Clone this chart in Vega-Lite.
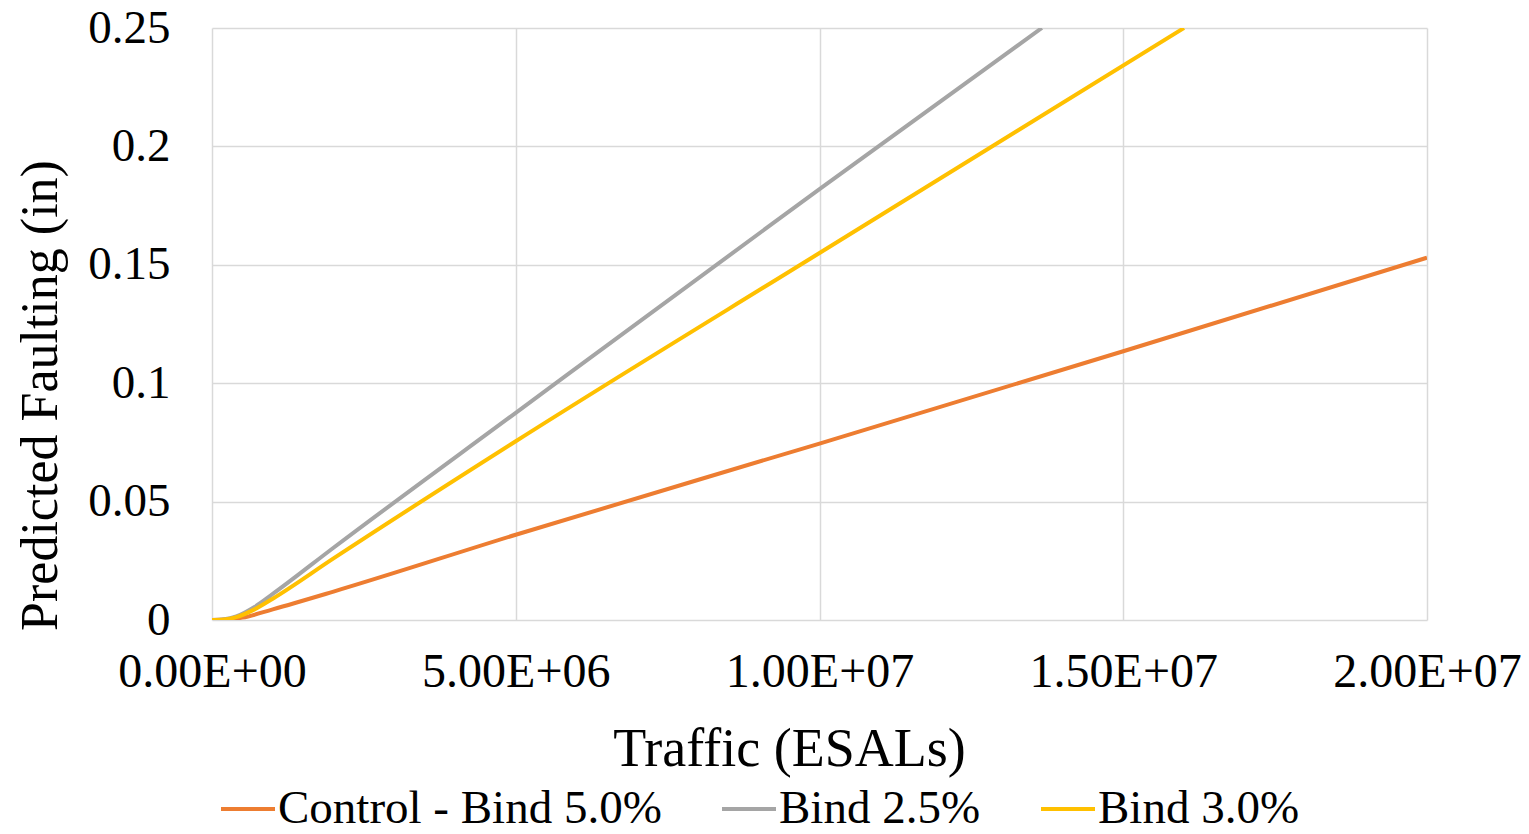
{
  "$schema": "https://vega.github.io/schema/vega-lite/v6.json",
  "autosize": "none",
  "width": 1215,
  "height": 592,
  "padding": {"left": 212, "top": 28, "right": 102, "bottom": 214},
  "background": "white",
  "config": {
    "view": {"stroke": null},
    "font": "Liberation Serif"
  },
  "data": {
    "values": [
      {"series": "Control - Bind 5.0%", "x": 0, "y": 0},
      {"series": "Control - Bind 5.0%", "x": 200000, "y": 0.0002},
      {"series": "Control - Bind 5.0%", "x": 500000, "y": 0.001},
      {"series": "Control - Bind 5.0%", "x": 1000000, "y": 0.0045},
      {"series": "Control - Bind 5.0%", "x": 2000000, "y": 0.012},
      {"series": "Control - Bind 5.0%", "x": 5000000, "y": 0.036},
      {"series": "Control - Bind 5.0%", "x": 10000000, "y": 0.0745},
      {"series": "Control - Bind 5.0%", "x": 15000000, "y": 0.1135},
      {"series": "Control - Bind 5.0%", "x": 20000000, "y": 0.153},
      {"series": "Bind 2.5%", "x": 0, "y": 0},
      {"series": "Bind 2.5%", "x": 200000, "y": 0.0003},
      {"series": "Bind 2.5%", "x": 400000, "y": 0.0015},
      {"series": "Bind 2.5%", "x": 700000, "y": 0.0055},
      {"series": "Bind 2.5%", "x": 1000000, "y": 0.011},
      {"series": "Bind 2.5%", "x": 2000000, "y": 0.0305},
      {"series": "Bind 2.5%", "x": 5000000, "y": 0.0875},
      {"series": "Bind 2.5%", "x": 10000000, "y": 0.182},
      {"series": "Bind 2.5%", "x": 13660000, "y": 0.25},
      {"series": "Bind 3.0%", "x": 0, "y": 0},
      {"series": "Bind 3.0%", "x": 200000, "y": 0.0002},
      {"series": "Bind 3.0%", "x": 400000, "y": 0.0012},
      {"series": "Bind 3.0%", "x": 700000, "y": 0.0045},
      {"series": "Bind 3.0%", "x": 1000000, "y": 0.009},
      {"series": "Bind 3.0%", "x": 2000000, "y": 0.026},
      {"series": "Bind 3.0%", "x": 5000000, "y": 0.0755},
      {"series": "Bind 3.0%", "x": 10000000, "y": 0.155},
      {"series": "Bind 3.0%", "x": 16000000, "y": 0.25}
    ]
  },
  "mark": {"type": "line", "strokeWidth": 4, "clip": true, "interpolate": "monotone"},
  "encoding": {
    "x": {
      "field": "x", "type": "quantitative",
      "scale": {"domain": [0, 20000000], "nice": false},
      "axis": {
        "values": [0, 5000000, 10000000, 15000000, 20000000],
        "labelExpr": "datum.value == 0 ? '0.00E+00' : datum.value == 5000000 ? '5.00E+06' : datum.value == 10000000 ? '1.00E+07' : datum.value == 15000000 ? '1.50E+07' : '2.00E+07'",
        "title": "Traffic (ESALs)",
        "titleFont": "Liberation Serif", "titleFontSize": 54, "titleFontWeight": "normal", "titleColor": "black",
        "titleX": 577,
        "labelFont": "Liberation Serif", "labelFontSize": 48, "labelColor": "black", "labelLimit": 400,
        "labelPadding": 28, "titlePadding": 26,
        "domain": false, "ticks": false,
        "grid": true, "gridColor": "#D9D9D9", "gridWidth": 1.5,
        "labelFlush": false
      }
    },
    "y": {
      "field": "y", "type": "quantitative",
      "scale": {"domain": [0, 0.25], "nice": false},
      "axis": {
        "values": [0, 0.05, 0.1, 0.15, 0.2, 0.25],
        "format": "~g",
        "title": "Predicted Faulting (in)",
        "titleFont": "Liberation Serif", "titleFontSize": 52, "titleFontWeight": "normal", "titleColor": "black",
        "titleY": 367,
        "labelFont": "Liberation Serif", "labelFontSize": 47, "labelColor": "black",
        "labelPadding": 42, "titlePadding": 20,
        "domain": false, "ticks": false,
        "grid": true, "gridColor": "#D9D9D9", "gridWidth": 1.5,
        "labelFlush": false
      }
    },
    "color": {
      "field": "series", "type": "nominal",
      "sort": ["Control - Bind 5.0%", "Bind 2.5%", "Bind 3.0%"],
      "scale": {"domain": ["Control - Bind 5.0%", "Bind 2.5%", "Bind 3.0%"], "range": ["#ED7D31", "#A5A5A5", "#FFC000"]},
      "legend": {
        "orient": "none", "direction": "horizontal",
        "legendX": 7, "legendY": 752,
        "title": null,
        "symbolType": "stroke", "symbolSize": 2916, "symbolStrokeWidth": 4,
        "labelFont": "Liberation Serif", "labelFontSize": 47, "labelColor": "black",
        "labelOffset": 1, "columnPadding": 52, "labelLimit": 600
      }
    }
  }
}
